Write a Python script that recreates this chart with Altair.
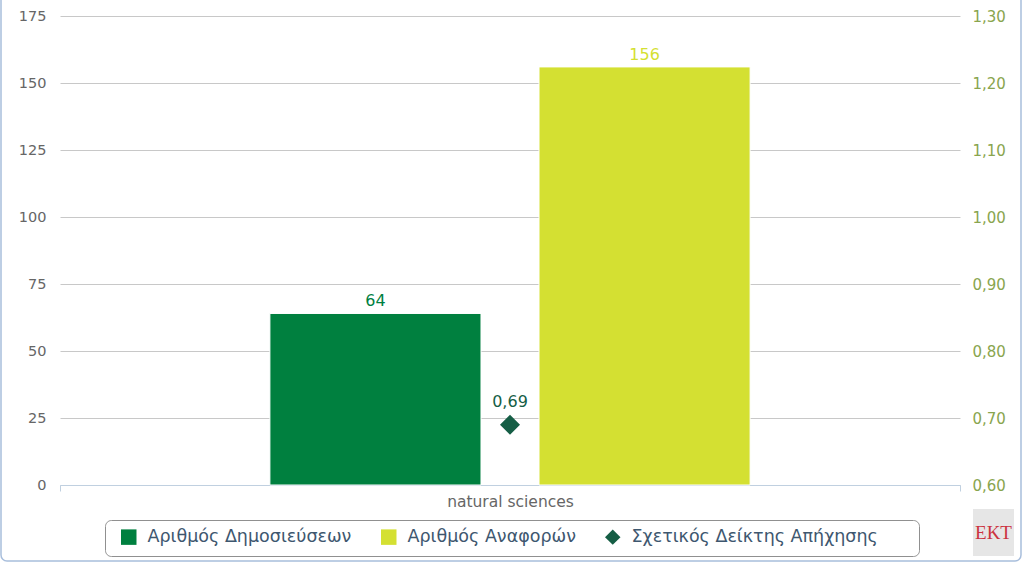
import altair as alt
import pandas as pd

# ---- data ----
categories = ["natural sciences"]
series_names = ["Αριθμός Δημοσιεύσεων", "Αριθμός Αναφορών", "Σχετικός Δείκτης Απήχησης"]
publications = [64]
citations = [156]
relative_index = [0.69]

left_ticks = [0, 25, 50, 75, 100, 125, 150, 175]
right_ticks = [0.6, 0.7, 0.8, 0.9, 1.0, 1.1, 1.2, 1.3]

colors = ["#00803f", "#d4e032", "#155e45"]

bars_df = pd.DataFrame({
    "category": categories * 2,
    "series": [series_names[0], series_names[1]],
    "value": [publications[0], citations[0]],
    "tcolor": [colors[0], colors[1]],
})
pts_df = pd.DataFrame({
    "category": categories,
    "series": [series_names[2]],
    "value": relative_index,
    "label": [f"{v:.2f}".replace(".", ",") for v in relative_index],
})

FONT = "DejaVu Sans"

legend = alt.Legend(
    title=None, orient="none", legendX=60, legendY=512, direction="horizontal",
    padding=0, labelFont=FONT, labelFontSize=17.5, labelColor="#3E576F", labelOffset=10,
    symbolSize=240, symbolStrokeWidth=0, columnPadding=28, labelLimit=500,
)
color_scale = alt.Scale(domain=series_names, range=colors)
shape_scale = alt.Scale(domain=series_names, range=["square", "square", "diamond"])

x_enc = alt.X("category:N", title=None,
              scale=alt.Scale(paddingInner=0, paddingOuter=0),
              axis=alt.Axis(labelAngle=0, labelColor="#666666", labelFontSize=15.5,
                            labelFont=FONT, domainColor="#C0D0E0", tickColor="#C0D0E0",
                            tickBand="extent", tickSize=6, labelPadding=3, grid=False))
xoff = alt.XOffset("series:N", scale=alt.Scale(domain=series_names[:2],
                                                paddingInner=0.2156, paddingOuter=0.78))

y_left = alt.Y("value:Q", title=None,
               scale=alt.Scale(domain=[0, 175], nice=False),
               axis=alt.Axis(values=left_ticks, ticks=False, domain=False,
                             labelColor="#666666", labelFontSize=14.5, labelFont=FONT,
                             labelPadding=14, gridColor="#c8c8c8", grid=True))
y_right = alt.Y("value:Q", title=None,
                scale=alt.Scale(domain=[0.6, 1.3], nice=False, zero=False),
                axis=alt.Axis(values=right_ticks, orient="right", ticks=False, domain=False,
                              grid=False, labelColor="#89A54E", labelFontSize=15,
                              labelFont=FONT, labelPadding=12,
                              labelExpr="replace(format(datum.value, '.2f'), '.', ',')"))

bars = alt.Chart(bars_df).mark_bar(stroke="#ffffff", strokeWidth=1).encode(
    x=x_enc, xOffset=xoff, y=y_left,
    color=alt.Color("series:N", scale=color_scale, legend=legend),
)
bar_text = alt.Chart(bars_df).mark_text(baseline="alphabetic", dy=-7, fontSize=16, font=FONT).encode(
    x=x_enc, xOffset=xoff, y=y_left, text="value:Q",
    color=alt.Color("tcolor:N", scale=None),
)
left = alt.layer(bars, bar_text)

points = alt.Chart(pts_df).mark_point(filled=True, size=400, opacity=1).encode(
    x=x_enc, y=y_right,
    color=alt.Color("series:N", scale=color_scale, legend=legend),
    shape=alt.Shape("series:N", scale=shape_scale, legend=legend),
)
pt_text = alt.Chart(pts_df).mark_text(baseline="alphabetic", dy=-18, fontSize=16, font=FONT,
                                       color=colors[2]).encode(
    x=x_enc, y=y_right, text="label:N",
)
right = alt.layer(points, pt_text)

one = pd.DataFrame({"k": [0]})
frame = alt.Chart(one).mark_rect(fill=None, stroke="#a8bedc", strokeWidth=1.5, cornerRadius=6).encode(
    x=alt.value(-59), x2=alt.value(961), y=alt.value(-30), y2=alt.value(545))
legend_box = alt.Chart(one).mark_rect(fill=None, stroke="#909090", strokeWidth=1, cornerRadius=6).encode(
    x=alt.value(45.5), x2=alt.value(859.5), y=alt.value(504.5), y2=alt.value(540.5))
logo_bg = alt.Chart(one).mark_rect(fill="#e6e6e6").encode(
    x=alt.value(913), x2=alt.value(954), y=alt.value(493), y2=alt.value(540))
logo = alt.Chart(one).mark_text(text="EKT", font="Liberation Serif", fontSize=19,
                                color="#cc3340", baseline="middle", align="center").encode(
    x=alt.value(933.5), y=alt.value(517))

chart = alt.layer(left, right, frame, legend_box, logo_bg, logo).resolve_scale(y="independent").properties(
    width=900, height=469,
    autosize=alt.AutoSizeParams(type="none"),
    padding={"left": 60, "top": 16, "right": 64, "bottom": 79},
).configure(font=FONT).configure_view(strokeWidth=0, stroke="transparent")

chart.save("out.html", embed_options={"renderer": "svg", "actions": False})
